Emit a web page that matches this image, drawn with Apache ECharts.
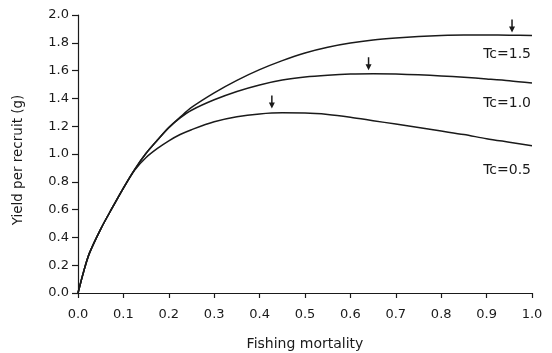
<!DOCTYPE html>
<html>
<head>
<meta charset="utf-8">
<script src="https://cdn.jsdelivr.net/npm/echarts@6/dist/echarts.min.js"></script>
<style>html,body{margin:0;padding:0;background:#fff;}#c{width:552px;height:353px;}</style>
</head>
<body>
<div id="c"></div>
<script>
var fishingMortality = [0, 0.0125, 0.025, 0.05, 0.075, 0.1, 0.125, 0.15, 0.175, 0.2, 0.225, 0.25, 0.3, 0.35, 0.4, 0.45, 0.5, 0.55, 0.6, 0.65, 0.7, 0.75, 0.8, 0.85, 0.9, 0.95, 1.0];
var yieldTc05 = [0, 0.155, 0.285, 0.46, 0.61, 0.755, 0.885, 0.975, 1.04, 1.095, 1.14, 1.175, 1.232, 1.268, 1.288, 1.296, 1.295, 1.285, 1.265, 1.24, 1.215, 1.19, 1.165, 1.14, 1.11, 1.085, 1.06];
var yieldTc10 = [0, 0.155, 0.285, 0.46, 0.61, 0.755, 0.89, 1.005, 1.10, 1.19, 1.26, 1.315, 1.39, 1.45, 1.497, 1.532, 1.554, 1.567, 1.575, 1.577, 1.575, 1.57, 1.562, 1.552, 1.54, 1.527, 1.51];
var yieldTc15 = [0, 0.155, 0.285, 0.46, 0.61, 0.755, 0.89, 1.005, 1.10, 1.19, 1.265, 1.335, 1.44, 1.53, 1.607, 1.672, 1.727, 1.768, 1.798, 1.82, 1.835, 1.846, 1.853, 1.856, 1.856, 1.855, 1.853];
var seriesNames = ['Tc=0.5', 'Tc=1.0', 'Tc=1.5'];
var arrowX = [0.427, 0.64, 0.956];
var arrowY = [1.375, 1.65, 1.92];
var labelX = [1.0, 1.0, 1.0];
var labelY = [0.884, 1.364, 1.714];
var xTicks = [0, 0.1, 0.2, 0.3, 0.4, 0.5, 0.6, 0.7, 0.8, 0.9, 1.0];
var yTicks = [0, 0.2, 0.4, 0.6, 0.8, 1.0, 1.2, 1.4, 1.6, 1.8, 2.0];

var font = 'DejaVu Sans';
var ink = '#1a1a1a';
var arrowPath = 'path://M2.25,0 L3.75,0 L3.75,7 L6,7 L3,13 L0,7 L2.25,7 Z';

function pairs(ys) { return fishingMortality.map(function (x, i) { return [x, ys[i]]; }); }
var allY = [yieldTc05, yieldTc10, yieldTc15];

var series = allY.map(function (ys, k) {
  return {
    name: seriesNames[k],
    type: 'line',
    data: pairs(ys),
    smooth: 0.3,
    showSymbol: false,
    symbol: 'none',
    lineStyle: { color: ink, width: 1.5 },
    animation: false,
    markPoint: {
      animation: false,
      data: [
        { coord: [arrowX[k], arrowY[k]], symbol: arrowPath, symbolSize: [6, 13],
          itemStyle: { color: ink }, label: { show: false } },
        { coord: [labelX[k], labelY[k]], symbol: 'circle', symbolSize: 0,
          itemStyle: { color: 'transparent' },
          label: { show: true, position: 'left', distance: 1, formatter: seriesNames[k],
                   color: ink, fontFamily: font, fontSize: 14 } }
      ]
    }
  };
});

var chart = echarts.init(document.getElementById('c'), null, { renderer: 'canvas' });
chart.setOption({
  backgroundColor: '#fff',
  animation: false,
  grid: { left: 78, right: 20, top: 15, bottom: 60, containLabel: false, outerBoundsMode: 'none' },
  xAxis: {
    type: 'value', min: 0, max: 1.0, interval: 0.1,
    name: 'Fishing mortality', nameLocation: 'middle', nameGap: 44,
    nameTextStyle: { fontFamily: font, fontSize: 14, color: ink },
    axisLine: { show: true, lineStyle: { color: ink, width: 1.2 } },
    axisTick: { show: true, length: 5, lineStyle: { color: ink, width: 1.2 } },
    axisLabel: { margin: 15, fontFamily: font, fontSize: 13, color: ink,
                 formatter: function (v) { return v.toFixed(1); } },
    splitLine: { show: false }
  },
  yAxis: {
    type: 'value', min: 0, max: 2.0, interval: 0.2,
    name: 'Yield per recruit (g)', nameLocation: 'middle', nameGap: 53,
    nameTextStyle: { fontFamily: font, fontSize: 13.5, color: ink, padding: [0, 12, 0, 0] },
    axisLine: { show: true, lineStyle: { color: ink, width: 1.2 } },
    axisTick: { show: true, length: 6, lineStyle: { color: ink, width: 1.2 } },
    axisLabel: { margin: 9, fontFamily: font, fontSize: 13, color: ink,
                 formatter: function (v) { return v.toFixed(1); } },
    splitLine: { show: false }
  },
  series: series
});
</script>
</body>
</html>
